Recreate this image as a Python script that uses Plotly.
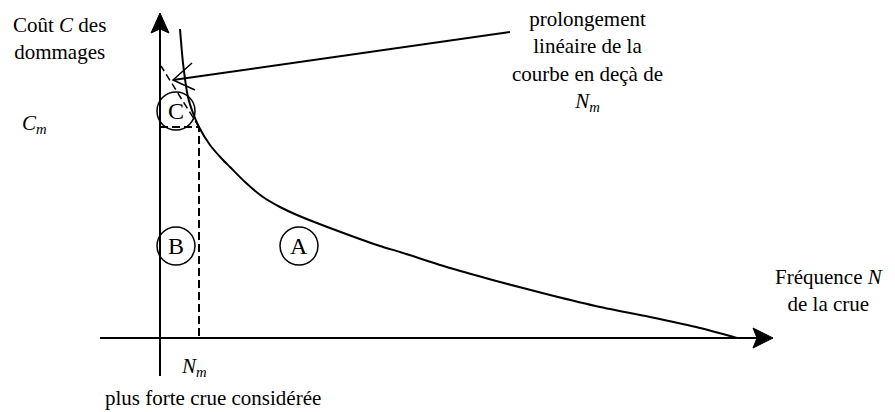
import plotly.graph_objects as go

# ---- data (diagram units: x = frequency N, y = cost C; origin at axes crossing)
curve_N = [20, 23, 28, 33, 39, 50, 63, 70, 85, 103, 120, 137, 170, 220, 240, 290, 340, 390, 440, 490, 540, 577]
curve_C = [309, 275, 241, 225, 211, 193, 178, 171, 156, 141, 131, 123, 110, 92, 86, 70, 56, 43, 31, 21, 10, 0]
N_m = 39
C_m = 211
extension_N = [N_m, 1]
extension_C = [C_m, 272]
pointer_N = [350, 13]
pointer_C = [306, 258]
pointer_head_N = [32, 13, 35]
pointer_head_C = [275, 258, 248]
x_axis_N = [-60, 600]
y_axis_C = [-38, 312]
circle_labels = ["C", "B", "A"]
circle_N = [16, 16, 139]
circle_C = [227, 92, 92]

FONT = "Times New Roman, serif"
FS = 21
R = 19

fig = go.Figure()
line = dict(color="black", width=2)

# axes
fig.add_trace(go.Scatter(x=x_axis_N, y=[0, 0], mode="lines", line=line))
fig.add_trace(go.Scatter(x=[0, 0], y=y_axis_C, mode="lines", line=line))
# filled arrowheads
fig.add_trace(go.Scatter(x=[613, 593, 597, 593, 613], y=[0, 10, 0, -10, 0], mode="lines",
                         fill="toself", fillcolor="black", line=dict(color="black", width=1)))
fig.add_trace(go.Scatter(x=[0, -9, 0, 9, 0], y=[325, 305, 309, 305, 325], mode="lines",
                         fill="toself", fillcolor="black", line=dict(color="black", width=1)))
# curve
fig.add_trace(go.Scatter(x=curve_N, y=curve_C, mode="lines",
                         line=dict(color="black", width=2, shape="spline", smoothing=0.6)))
# dashed guides
fig.add_trace(go.Scatter(x=[0, N_m, N_m], y=[C_m, C_m, 0], mode="lines",
                         line=dict(color="black", width=2, dash="8px,4px")))
fig.add_trace(go.Scatter(x=extension_N, y=extension_C, mode="lines",
                         line=dict(color="black", width=1.5, dash="7px,4px")))
# pointer
fig.add_trace(go.Scatter(x=pointer_N, y=pointer_C, mode="lines", line=line))
fig.add_trace(go.Scatter(x=pointer_head_N, y=pointer_head_C, mode="lines", line=dict(color="black", width=1.5)))

# circled letters
for lab, cx, cy in zip(circle_labels, circle_N, circle_C):
    fig.add_shape(type="circle", xref="x", yref="y", x0=cx - R, x1=cx + R, y0=cy - R, y1=cy + R,
                  line=dict(color="black", width=1.5))
    fig.add_annotation(x=cx, y=cy, text=lab, showarrow=False, font=dict(family=FONT, size=24, color="black"))

texts = [
    (-101, 300, "Coût <i>C</i> des<br>dommages"),
    (-126, 214, "<i>C</i><sub><i>m</i></sub>"),
    (34, -29, "<i>N</i><sub><i>m</i></sub>"),
    (53, -60, "plus forte crue considérée"),
    (427, 277, "prolongement<br>linéaire de la<br>courbe en deçà de<br><i>N</i><sub><i>m</i></sub>"),
    (669, 48, "Fréquence <i>N</i><br>de la crue"),
]
for x, y, t in texts:
    fig.add_annotation(x=x, y=y, text=t, showarrow=False, align="center",
                       font=dict(family=FONT, size=FS, color="black"))

# page body has an 8px margin: shift the visible range so the drawing lands where it should
fig.update_layout(
    width=895, height=412, margin=dict(l=0, r=0, t=0, b=0),
    plot_bgcolor="white", paper_bgcolor="white", showlegend=False,
    font=dict(family=FONT),
    xaxis=dict(range=[-152, 743], visible=False, fixedrange=True),
    yaxis=dict(range=[-82, 330], visible=False, fixedrange=True),
)
fig.write_html("out.html")
